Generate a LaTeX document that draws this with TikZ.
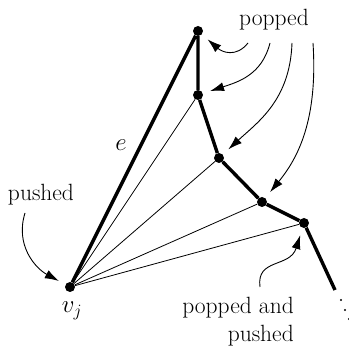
\documentclass[tikz,border=0pt]{standalone}
\usetikzlibrary{arrows.meta}
\tikzset{
  vtx/.style={circle, fill, inner sep=0pt, minimum size=10pt},
  tick/.style={circle, fill, inner sep=0pt, minimum size=2.2pt},
  chain/.style={line width=3.4pt},
  fan/.style={line width=0.8pt},
  note/.style={-{Latex[length=14pt,width=9pt]}, line width=0.9pt, shorten >=7.5pt},
  lbl/.style={font=\fontsize{23.5}{28}\selectfont, inner sep=0pt}
}
\begin{document}
\begin{tikzpicture}[x=1pt, y=-1pt]
    \useasboundingbox (0,0) rectangle (349,347);
    % vertices of the chain
    \node[vtx] (vj) at (70,287) {};
    \node[vtx] (p1) at (198,31) {};
    \node[vtx] (p2) at (198,95) {};
    \node[vtx] (p3) at (219,158) {};
    \node[vtx] (p4) at (262,202) {};
    \node[vtx] (p5) at (304,223) {};
    \coordinate (tail) at (335,290);
    \node[tick] (d1) at (341,300) {};
    \node[tick] (d2) at (345,310) {};
    \node[tick] (d3) at (349,319) {};
    % edges
    \draw[chain] (vj) -- (p1) -- (p2) -- (p3) -- (p4) -- (p5) -- (tail);
    \draw[fan] (vj) -- (p2);
    \draw[fan] (vj) -- (p3);
    \draw[fan] (vj) -- (p4);
    \draw[fan] (vj) -- (p5);
    % labels
    \node[lbl, anchor=base] (popped) at (274,26) {popped};
    \node[lbl, anchor=base] (pushed) at (41,201) {pushed};
    \node[lbl, anchor=base] (le) at (121,151) {$e$};
    \node[lbl, anchor=base] (lvj) at (72,313) {$v_j$};
    \node[lbl, anchor=north east, align=right] (both) at (294,297) {popped and\\pushed};
    % arrows
    \coordinate (s1) at (248,43);
    \coordinate (s2) at (270,43);
    \coordinate (s3) at (292,43);
    \coordinate (s4) at (313,43);
    \coordinate (s5) at (260,287);
    \coordinate (s6) at (25,213);
    \draw[note] (s1) .. controls (236,58) and (222,52) .. (p1);
    \draw[note] (s2) .. controls (262,75) and (238,82) .. (p2);
    \draw[note] (s3) .. controls (290,100) and (258,122) .. (p3);
    \draw[note] (s4) .. controls (318,120) and (298,158) .. (p4);
    \draw[note] (s5) .. controls (256,258) and (290,268) .. (p5);
    \draw[note] (s6) .. controls (15,245) and (35,268) .. (vj);
\end{tikzpicture}
\end{document}
